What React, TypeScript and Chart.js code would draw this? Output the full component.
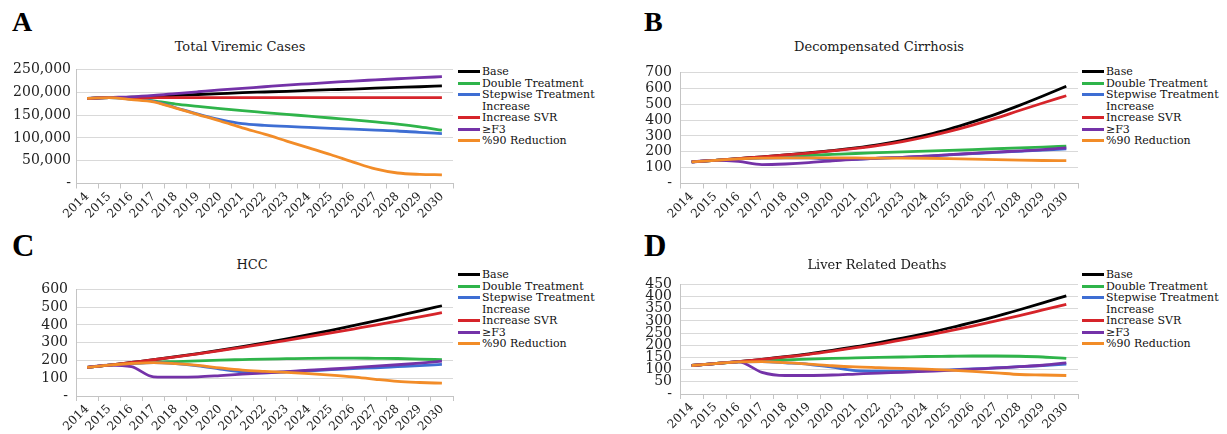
import React, { useEffect, useRef } from "react";
import { Chart, registerables } from "chart.js";

Chart.register(...registerables);

// ---------- data ----------
const years = ["2014", "2015", "2016", "2017", "2018", "2019", "2020", "2021", "2022", "2023", "2024", "2025", "2026", "2027", "2028", "2029", "2030"];

const seriesNames = ["Base", "Double Treatment", "Stepwise Treatment Increase", "Increase SVR", "≥F3", "%90 Reduction"];
const legendLines = [["Base"], ["Double Treatment"], ["Stepwise Treatment", "Increase"], ["Increase SVR"], ["≥F3"], ["%90 Reduction"]];
const seriesColors = ["#000000", "#2fb44a", "#3e6ed3", "#d6242a", "#7432a8", "#f28c28"];

// A: Total Viremic Cases
const viremicBase = [186600, 188000, 189000, 191000, 193000, 195000, 197000, 199000, 200500, 202000, 204000, 205500, 207000, 209000, 210500, 212000, 214000];
const viremicDouble = [186600, 188000, 186000, 181000, 174000, 169000, 164000, 159500, 155500, 151500, 147500, 143500, 139500, 135000, 130000, 124000, 117000];
const viremicStepwise = [186600, 188000, 185000, 180000, 166000, 152000, 140000, 131000, 127500, 125000, 123000, 121000, 119000, 117000, 115000, 112000, 109500];
const viremicSvr = [186600, 188000, 188000, 188000, 188000, 188000, 188000, 188000, 188000, 188000, 188000, 188000, 188000, 188000, 188000, 188000, 188000];
const viremicF3 = [186600, 188500, 190000, 193000, 197000, 201000, 205000, 208500, 212000, 215500, 218500, 221500, 224500, 227000, 229500, 232000, 234000];
const viremic90 = [186600, 188000, 184000, 179000, 165000, 151000, 137000, 122000, 108000, 93000, 78000, 63000, 47000, 32000, 23000, 20000, 19000];
const viremicTicks = [0, 50000, 100000, 150000, 200000, 250000];

// B: Decompensated Cirrhosis
const dcBase = [136, 146, 157, 168, 180, 193, 207, 224, 245, 272, 305, 343, 388, 437, 492, 551, 613];
const dcDouble = [136, 146, 155, 163, 170, 177, 183, 189, 194, 199, 204, 209, 214, 219, 224, 229, 236];
const dcStepwise = [136, 146, 155, 160, 161, 161, 150, 152, 159, 165, 172, 180, 188, 196, 203, 210, 219];
const dcSvr = [136, 146, 157, 168, 180, 192, 205, 221, 240, 264, 293, 328, 368, 412, 460, 507, 553];
const dcF3 = [136, 146, 139, 119, 123, 131, 143, 152, 160, 165, 172, 182, 190, 198, 205, 213, 225];
const dc90 = [136, 146, 155, 160, 161, 161, 161, 161, 160, 160, 159, 157, 154, 150, 147, 145, 144];
const dcTicks = [0, 100, 200, 300, 400, 500, 600, 700];

// C: HCC
const hccBase = [161, 174, 189, 204, 221, 239, 258, 278, 299, 321, 345, 370, 396, 423, 451, 479, 508];
const hccDouble = [161, 174, 184, 190, 194, 198, 202, 205, 208, 210, 212, 213, 213, 212, 211, 208, 204];
const hccStepwise = [161, 174, 183, 188, 182, 170, 152, 136, 131, 136, 142, 148, 154, 159, 165, 171, 178];
const hccSvr = [161, 174, 189, 204, 220, 237, 255, 274, 293, 313, 334, 355, 377, 399, 422, 445, 469];
const hccF3 = [161, 174, 165, 108, 106, 108, 115, 123, 130, 137, 145, 152, 160, 168, 176, 185, 196];
const hcc90 = [161, 174, 183, 188, 182, 172, 158, 146, 139, 133, 126, 118, 108, 94, 82, 76, 72];
const hccTicks = [0, 100, 200, 300, 400, 500, 600];

// D: Liver Related Deaths
const lrdBase = [117, 125, 133, 142, 153, 165, 179, 194, 211, 229, 249, 271, 294, 319, 346, 374, 403];
const lrdDouble = [117, 125, 132, 136, 140, 143, 146, 148, 150, 152, 154, 155, 156, 156, 155, 152, 146];
const lrdStepwise = [117, 125, 132, 133, 128, 122, 110, 96, 94, 94, 96, 99, 103, 107, 112, 117, 123];
const lrdSvr = [117, 125, 133, 142, 152, 163, 176, 190, 205, 222, 240, 259, 279, 300, 322, 345, 368];
const lrdF3 = [117, 125, 132, 89, 76, 76, 78, 82, 86, 89, 93, 97, 102, 107, 112, 118, 128];
const lrd90 = [117, 125, 132, 133, 129, 123, 116, 111, 108, 105, 102, 98, 93, 87, 80, 78, 76];
const lrdTicks = [0, 50, 100, 150, 200, 250, 300, 350, 400, 450];

// ---------- layout ----------
type Area = { l: number; r: number; t: number; b: number };
type PanelSpec = {
  letter: string;
  title: string;
  series: number[][];
  ticks: number[];
  area: Area;
  titleX: number;
  titleY: number;
  canvasX: number;
  tickPad: number;
  letterX: number;
  letterY: number;
  letterSize: number;
  legendX: number;
  legendY: number;
};

const panels: PanelSpec[] = [
  {
    letter: "A", title: "Total Viremic Cases",
    series: [viremicBase, viremicDouble, viremicStepwise, viremicSvr, viremicF3, viremic90],
    ticks: viremicTicks, area: { l: 76, r: 453, t: 68.5, b: 183.5 },
    titleX: 240, titleY: 47, canvasX: 0, tickPad: 5,
    letterX: 12, letterY: 8, letterSize: 28, legendX: 458, legendY: 66,
  },
  {
    letter: "B", title: "Decompensated Cirrhosis",
    series: [dcBase, dcDouble, dcStepwise, dcSvr, dcF3, dc90],
    ticks: dcTicks, area: { l: 680, r: 1078, t: 68.5, b: 183.5 },
    titleX: 879, titleY: 47, canvasX: 615, tickPad: 8,
    letterX: 644, letterY: 8, letterSize: 28, legendX: 1082, legendY: 66,
  },
  {
    letter: "C", title: "HCC",
    series: [hccBase, hccDouble, hccStepwise, hccSvr, hccF3, hcc90],
    ticks: hccTicks, area: { l: 76, r: 453, t: 285, b: 396 },
    titleX: 252, titleY: 265, canvasX: 0, tickPad: 8,
    letterX: 12, letterY: 229.5, letterSize: 31, legendX: 458, legendY: 269,
  },
  {
    letter: "D", title: "Liver Related Deaths",
    series: [lrdBase, lrdDouble, lrdStepwise, lrdSvr, lrdF3, lrd90],
    ticks: lrdTicks, area: { l: 680, r: 1078, t: 280, b: 394 },
    titleX: 877, titleY: 265, canvasX: 615, tickPad: 8,
    letterX: 644, letterY: 229.5, letterSize: 31, legendX: 1082, legendY: 269,
  },
];

const SERIF = '"DejaVu Serif", serif';
const X_AXIS_H = 38;
const PAD_R = 3;
const PAD_T = 12;

function Panel({ p }: { p: PanelSpec }) {
  const ref = useRef<HTMLCanvasElement | null>(null);
  const cy = Math.floor(p.area.t - PAD_T);
  const padT = p.area.t - cy;
  const yW = p.area.l - p.canvasX;
  const cw = Math.round(p.area.r + PAD_R - p.canvasX);
  const ch = Math.ceil(p.area.b + X_AXIS_H - cy);
  const xH = cy + ch - p.area.b;

  useEffect(() => {
    if (!ref.current) return;
    const chart = new Chart(ref.current, {
      type: "line",
      data: {
        labels: years,
        datasets: p.series.map((d, i) => ({
          label: seriesNames[i],
          data: d,
          borderColor: seriesColors[i],
          backgroundColor: seriesColors[i],
          borderWidth: 2.8,
          pointRadius: 0,
          fill: false,
          cubicInterpolationMode: "monotone" as const,
          order: p.series.length - 1 - i,
        })),
      },
      options: {
        responsive: false,
        animation: false,
        layout: { padding: { left: 0, right: PAD_R, top: padT, bottom: 0 } },
        plugins: {
          legend: { display: false },
          tooltip: { enabled: false },
          title: { display: false },
        },
        scales: {
          x: {
            offset: true,
            grid: { display: true, drawOnChartArea: false, drawTicks: true, tickLength: 5, color: "#c4c4c4", offset: true },
            border: { display: true, color: "#c4c4c4" },
            ticks: {
              autoSkip: false, maxRotation: 45, minRotation: 45, padding: 1,
              color: "#222", font: { family: SERIF, size: 12 },
            },
            afterFit: (s: any) => { s.height = xH; },
          },
          y: {
            min: 0,
            max: p.ticks[p.ticks.length - 1],
            afterBuildTicks: (s: any) => { s.ticks = p.ticks.map((v) => ({ value: v })); },
            grid: { color: "#d9d9d9", drawTicks: false },
            border: { display: true, color: "#c4c4c4" },
            ticks: {
              autoSkip: false,
              padding: p.tickPad,
              color: "#222",
              font: { family: SERIF, size: 14 },
              callback: (v: any) => (Number(v) === 0 ? "-" : Number(v).toLocaleString("en-US")),
            },
            afterFit: (s: any) => { s.width = yW; },
          },
        },
      } as any,
    });
    return () => chart.destroy();
  }, []);

  return (
    <>
      <canvas
        ref={ref}
        width={cw}
        height={ch}
        style={{ position: "absolute", left: p.canvasX, top: cy, width: cw, height: ch }}
      />
      <div
        style={{
          position: "absolute", left: p.titleX - 150, width: 300, top: p.titleY - 8, height: 16,
          textAlign: "center", font: `13px ${SERIF}`, lineHeight: "16px", color: "#1a1a1a", whiteSpace: "nowrap",
        }}
      >
        {p.title}
      </div>
      <div
        style={{
          position: "absolute", left: p.letterX, top: p.letterY,
          font: `bold ${p.letterSize}px "Liberation Serif", serif`, lineHeight: `${p.letterSize}px`, color: "#000",
        }}
      >
        {p.letter}
      </div>
      <div style={{ position: "absolute", left: p.legendX, top: p.legendY, font: `11px ${SERIF}`, color: "#111" }}>
        {legendLines.map((lines, i) =>
          lines.map((t, j) => (
            <div key={`${i}-${j}`} style={{ display: "flex", alignItems: "center", height: 11.5, lineHeight: "11.5px", whiteSpace: "nowrap" }}>
              <span style={{ display: "inline-block", width: 22, height: 3, marginRight: 2, background: j === 0 ? seriesColors[i] : "transparent" }} />
              <span>{t}</span>
            </div>
          ))
        )}
      </div>
    </>
  );
}

export default function App() {
  return (
    <div style={{ position: "fixed", left: 0, top: 0, width: 1227, height: 434, background: "#fff", overflow: "hidden" }}>
      {panels.map((p) => (
        <Panel key={p.letter} p={p} />
      ))}
    </div>
  );
}
